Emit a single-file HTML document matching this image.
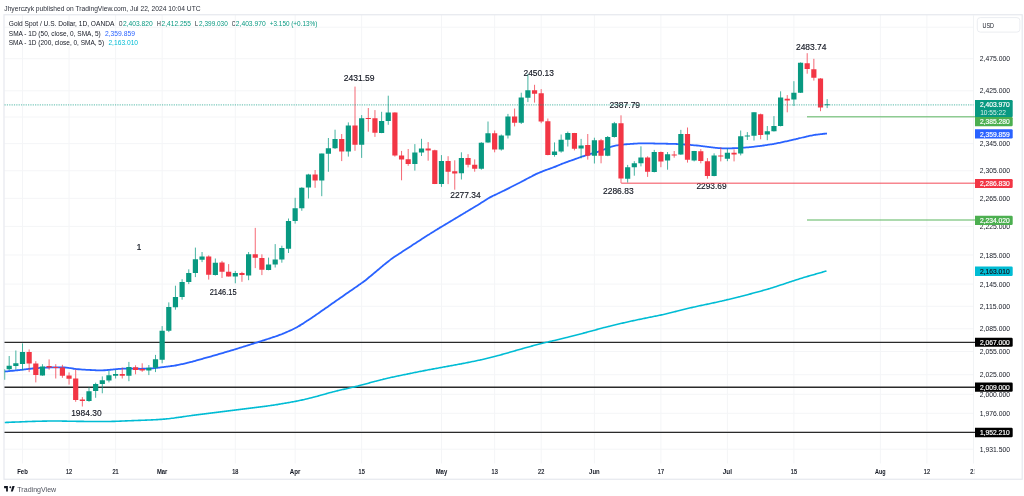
<!DOCTYPE html>
<html><head><meta charset="utf-8"><title>Gold Spot / U.S. Dollar chart</title>
<style>html,body{margin:0;padding:0;background:#fff;}body{width:1024px;height:496px;overflow:hidden;}svg{display:block;will-change:transform;}text{font-family:'Liberation Sans', Arial, sans-serif;}</style>
</head><body>
<svg width="1024" height="496" viewBox="0 0 1024 496">
<rect width="1024" height="496" fill="#ffffff"/>
<defs><clipPath id="pane"><rect x="4.5" y="15" width="969" height="448.5"/></clipPath></defs>
<g stroke="#F4F5F7" stroke-width="1" fill="none">
<line x1="22.50" y1="15" x2="22.50" y2="463.5"/>
<line x1="69.05" y1="15" x2="69.05" y2="463.5"/>
<line x1="115.60" y1="15" x2="115.60" y2="463.5"/>
<line x1="162.15" y1="15" x2="162.15" y2="463.5"/>
<line x1="235.30" y1="15" x2="235.30" y2="463.5"/>
<line x1="295.15" y1="15" x2="295.15" y2="463.5"/>
<line x1="361.65" y1="15" x2="361.65" y2="463.5"/>
<line x1="441.45" y1="15" x2="441.45" y2="463.5"/>
<line x1="494.65" y1="15" x2="494.65" y2="463.5"/>
<line x1="541.20" y1="15" x2="541.20" y2="463.5"/>
<line x1="594.40" y1="15" x2="594.40" y2="463.5"/>
<line x1="660.90" y1="15" x2="660.90" y2="463.5"/>
<line x1="727.40" y1="15" x2="727.40" y2="463.5"/>
<line x1="793.90" y1="15" x2="793.90" y2="463.5"/>
<line x1="880.35" y1="15" x2="880.35" y2="463.5"/>
<line x1="926.90" y1="15" x2="926.90" y2="463.5"/>
<line x1="4.5" y1="27.20" x2="973.5" y2="27.20"/>
<line x1="4.5" y1="58.70" x2="973.5" y2="58.70"/>
<line x1="4.5" y1="90.84" x2="973.5" y2="90.84"/>
<line x1="4.5" y1="117.04" x2="973.5" y2="117.04"/>
<line x1="4.5" y1="143.67" x2="973.5" y2="143.67"/>
<line x1="4.5" y1="170.77" x2="973.5" y2="170.77"/>
<line x1="4.5" y1="198.34" x2="973.5" y2="198.34"/>
<line x1="4.5" y1="226.40" x2="973.5" y2="226.40"/>
<line x1="4.5" y1="254.97" x2="973.5" y2="254.97"/>
<line x1="4.5" y1="284.07" x2="973.5" y2="284.07"/>
<line x1="4.5" y1="306.25" x2="973.5" y2="306.25"/>
<line x1="4.5" y1="328.75" x2="973.5" y2="328.75"/>
<line x1="4.5" y1="351.58" x2="973.5" y2="351.58"/>
<line x1="4.5" y1="374.74" x2="973.5" y2="374.74"/>
<line x1="4.5" y1="394.30" x2="973.5" y2="394.30"/>
<line x1="4.5" y1="413.31" x2="973.5" y2="413.31"/>
<line x1="4.5" y1="431.75" x2="973.5" y2="431.75"/>
<line x1="4.5" y1="449.19" x2="973.5" y2="449.19"/>
</g>
<text x="4.3" y="10.8" font-size="7.4" fill="#2A2E39" textLength="196.3" lengthAdjust="spacingAndGlyphs">Jhyerczyk published on TradingView.com, Jul 22, 2024 10:04 UTC</text>
<rect x="4" y="14.75" width="1018.2" height="464.5" fill="none" stroke="#E6E8EE" stroke-width="1.2"/>
<line x1="973.5" y1="15" x2="973.5" y2="463.5" stroke="#EEF0F3" stroke-width="0.8"/>
<line x1="4.5" y1="342.41" x2="975" y2="342.41" stroke="#2a2a2a" stroke-width="1.3"/>
<line x1="4.5" y1="387.23" x2="975" y2="387.23" stroke="#2a2a2a" stroke-width="1.3"/>
<line x1="4.5" y1="432.39" x2="975" y2="432.39" stroke="#2a2a2a" stroke-width="1.3"/>
<path clip-path="url(#pane)" d="M4.50 422.50C4.83 422.49 5.83 422.45 6.50 422.42C7.17 422.39 7.83 422.36 8.50 422.34C9.17 422.31 9.83 422.28 10.50 422.25C11.17 422.23 11.83 422.20 12.50 422.17C13.17 422.14 13.83 422.12 14.50 422.09C15.17 422.06 15.83 422.04 16.50 422.01C17.17 421.98 17.83 421.95 18.50 421.93C19.17 421.90 19.83 421.87 20.50 421.85C21.17 421.82 21.83 421.79 22.50 421.77C23.17 421.74 23.83 421.72 24.50 421.69C25.17 421.67 25.83 421.64 26.50 421.62C27.17 421.59 27.83 421.57 28.50 421.55C29.17 421.52 29.83 421.50 30.50 421.48C31.17 421.46 31.83 421.44 32.50 421.42C33.17 421.40 33.83 421.38 34.50 421.36C35.17 421.34 35.83 421.32 36.50 421.31C37.17 421.29 37.83 421.27 38.50 421.26C39.17 421.24 39.83 421.23 40.50 421.21C41.17 421.20 41.83 421.18 42.50 421.17C43.17 421.16 43.83 421.14 44.50 421.13C45.17 421.12 45.83 421.10 46.50 421.09C47.17 421.08 47.83 421.07 48.50 421.06C49.17 421.05 49.83 421.05 50.50 421.04C51.17 421.03 51.83 421.03 52.50 421.03C53.17 421.02 53.83 421.02 54.50 421.02C55.17 421.02 55.83 421.02 56.50 421.02C57.17 421.03 57.83 421.03 58.50 421.04C59.17 421.04 59.83 421.05 60.50 421.06C61.17 421.07 61.83 421.08 62.50 421.09C63.17 421.10 63.83 421.11 64.50 421.12C65.17 421.13 65.83 421.14 66.50 421.16C67.17 421.17 67.83 421.18 68.50 421.19C69.17 421.21 69.83 421.22 70.50 421.23C71.17 421.24 71.83 421.26 72.50 421.27C73.17 421.28 73.83 421.29 74.50 421.30C75.17 421.31 75.83 421.32 76.50 421.33C77.17 421.35 77.83 421.35 78.50 421.36C79.17 421.37 79.83 421.38 80.50 421.39C81.17 421.40 81.83 421.40 82.50 421.41C83.17 421.42 83.83 421.42 84.50 421.43C85.17 421.44 85.83 421.44 86.50 421.45C87.17 421.45 87.83 421.46 88.50 421.46C89.17 421.47 89.83 421.47 90.50 421.48C91.17 421.48 91.83 421.49 92.50 421.49C93.17 421.49 93.83 421.50 94.50 421.50C95.17 421.51 95.83 421.51 96.50 421.51C97.17 421.52 97.83 421.52 98.50 421.52C99.17 421.52 99.83 421.53 100.50 421.53C101.17 421.53 101.83 421.53 102.50 421.53C103.17 421.53 103.83 421.52 104.50 421.52C105.17 421.52 105.83 421.51 106.50 421.50C107.17 421.50 107.83 421.49 108.50 421.48C109.17 421.47 109.83 421.46 110.50 421.44C111.17 421.43 111.83 421.41 112.50 421.39C113.17 421.38 113.83 421.36 114.50 421.34C115.17 421.31 115.83 421.29 116.50 421.27C117.17 421.25 117.83 421.22 118.50 421.20C119.17 421.17 119.83 421.14 120.50 421.12C121.17 421.09 121.83 421.06 122.50 421.04C123.17 421.01 123.83 420.98 124.50 420.96C125.17 420.93 125.83 420.90 126.50 420.87C127.17 420.85 127.83 420.82 128.50 420.79C129.17 420.77 129.83 420.74 130.50 420.71C131.17 420.69 131.83 420.66 132.50 420.63C133.17 420.61 133.83 420.58 134.50 420.56C135.17 420.53 135.83 420.51 136.50 420.48C137.17 420.46 137.83 420.43 138.50 420.41C139.17 420.38 139.83 420.36 140.50 420.33C141.17 420.31 141.83 420.28 142.50 420.26C143.17 420.23 143.83 420.21 144.50 420.18C145.17 420.16 145.83 420.13 146.50 420.11C147.17 420.08 147.83 420.06 148.50 420.03C149.17 420.00 149.83 419.98 150.50 419.95C151.17 419.92 151.83 419.89 152.50 419.86C153.17 419.83 153.83 419.80 154.50 419.77C155.17 419.73 155.83 419.70 156.50 419.66C157.17 419.62 157.83 419.58 158.50 419.54C159.17 419.50 159.83 419.46 160.50 419.41C161.17 419.36 161.83 419.31 162.50 419.26C163.17 419.20 163.83 419.14 164.50 419.08C165.17 419.02 165.83 418.95 166.50 418.89C167.17 418.82 167.83 418.75 168.50 418.67C169.17 418.60 169.83 418.52 170.50 418.44C171.17 418.36 171.83 418.28 172.50 418.19C173.17 418.11 173.83 418.02 174.50 417.93C175.17 417.84 175.83 417.75 176.50 417.66C177.17 417.57 177.83 417.47 178.50 417.38C179.17 417.28 179.83 417.19 180.50 417.09C181.17 417.00 181.83 416.90 182.50 416.80C183.17 416.71 183.83 416.61 184.50 416.52C185.17 416.42 185.83 416.32 186.50 416.23C187.17 416.13 187.83 416.04 188.50 415.95C189.17 415.85 189.83 415.76 190.50 415.67C191.17 415.58 191.83 415.49 192.50 415.40C193.17 415.31 193.83 415.23 194.50 415.14C195.17 415.05 195.83 414.97 196.50 414.88C197.17 414.80 197.83 414.72 198.50 414.63C199.17 414.55 199.83 414.47 200.50 414.38C201.17 414.30 201.83 414.22 202.50 414.14C203.17 414.05 203.83 413.97 204.50 413.89C205.17 413.80 205.83 413.72 206.50 413.64C207.17 413.55 207.83 413.47 208.50 413.39C209.17 413.30 209.83 413.22 210.50 413.13C211.17 413.05 211.83 412.96 212.50 412.88C213.17 412.80 213.83 412.71 214.50 412.63C215.17 412.54 215.83 412.46 216.50 412.38C217.17 412.29 217.83 412.21 218.50 412.13C219.17 412.04 219.83 411.96 220.50 411.88C221.17 411.80 221.83 411.72 222.50 411.63C223.17 411.55 223.83 411.47 224.50 411.39C225.17 411.31 225.83 411.23 226.50 411.15C227.17 411.07 227.83 410.99 228.50 410.90C229.17 410.82 229.83 410.74 230.50 410.66C231.17 410.58 231.83 410.49 232.50 410.41C233.17 410.33 233.83 410.24 234.50 410.16C235.17 410.08 235.83 409.99 236.50 409.91C237.17 409.82 237.83 409.74 238.50 409.65C239.17 409.57 239.83 409.48 240.50 409.40C241.17 409.31 241.83 409.23 242.50 409.14C243.17 409.05 243.83 408.97 244.50 408.88C245.17 408.80 245.83 408.71 246.50 408.63C247.17 408.54 247.83 408.46 248.50 408.37C249.17 408.29 249.83 408.20 250.50 408.12C251.17 408.03 251.83 407.95 252.50 407.87C253.17 407.78 253.83 407.70 254.50 407.62C255.17 407.53 255.83 407.45 256.50 407.36C257.17 407.28 257.83 407.20 258.50 407.11C259.17 407.03 259.83 406.95 260.50 406.86C261.17 406.78 261.83 406.69 262.50 406.61C263.17 406.52 263.83 406.44 264.50 406.35C265.17 406.26 265.83 406.18 266.50 406.09C267.17 406.00 267.83 405.91 268.50 405.82C269.17 405.72 269.83 405.63 270.50 405.54C271.17 405.44 271.83 405.35 272.50 405.25C273.17 405.15 273.83 405.05 274.50 404.95C275.17 404.84 275.83 404.74 276.50 404.63C277.17 404.53 277.83 404.42 278.50 404.31C279.17 404.20 279.83 404.09 280.50 403.98C281.17 403.87 281.83 403.76 282.50 403.64C283.17 403.53 283.83 403.42 284.50 403.30C285.17 403.19 285.83 403.07 286.50 402.96C287.17 402.84 287.83 402.73 288.50 402.61C289.17 402.49 289.83 402.38 290.50 402.26C291.17 402.14 291.83 402.02 292.50 401.90C293.17 401.78 293.83 401.65 294.50 401.53C295.17 401.40 295.83 401.28 296.50 401.15C297.17 401.02 297.83 400.89 298.50 400.75C299.17 400.61 299.83 400.48 300.50 400.34C301.17 400.19 301.83 400.05 302.50 399.90C303.17 399.75 303.83 399.60 304.50 399.45C305.17 399.30 305.83 399.14 306.50 398.98C307.17 398.82 307.83 398.66 308.50 398.50C309.17 398.34 309.83 398.17 310.50 398.00C311.17 397.83 311.83 397.66 312.50 397.49C313.17 397.32 313.83 397.14 314.50 396.96C315.17 396.79 315.83 396.61 316.50 396.43C317.17 396.25 317.83 396.06 318.50 395.88C319.17 395.69 319.83 395.50 320.50 395.32C321.17 395.13 321.83 394.94 322.50 394.75C323.17 394.56 323.83 394.37 324.50 394.18C325.17 393.99 325.83 393.81 326.50 393.62C327.17 393.43 327.83 393.24 328.50 393.06C329.17 392.88 329.83 392.70 330.50 392.52C331.17 392.34 331.83 392.16 332.50 391.99C333.17 391.82 333.83 391.64 334.50 391.48C335.17 391.31 335.83 391.15 336.50 390.99C337.17 390.82 337.83 390.67 338.50 390.51C339.17 390.35 339.83 390.20 340.50 390.05C341.17 389.89 341.83 389.74 342.50 389.59C343.17 389.44 343.83 389.30 344.50 389.15C345.17 389.00 345.83 388.85 346.50 388.70C347.17 388.55 347.83 388.40 348.50 388.25C349.17 388.10 349.83 387.95 350.50 387.80C351.17 387.64 351.83 387.49 352.50 387.33C353.17 387.18 353.83 387.02 354.50 386.86C355.17 386.69 355.83 386.53 356.50 386.36C357.17 386.20 357.83 386.03 358.50 385.86C359.17 385.69 359.83 385.51 360.50 385.34C361.17 385.16 361.83 384.98 362.50 384.80C363.17 384.62 363.83 384.44 364.50 384.26C365.17 384.08 365.83 383.89 366.50 383.71C367.17 383.53 367.83 383.34 368.50 383.16C369.17 382.97 369.83 382.79 370.50 382.60C371.17 382.42 371.83 382.23 372.50 382.05C373.17 381.86 373.83 381.68 374.50 381.50C375.17 381.32 375.83 381.13 376.50 380.96C377.17 380.78 377.83 380.60 378.50 380.42C379.17 380.25 379.83 380.08 380.50 379.91C381.17 379.74 381.83 379.57 382.50 379.41C383.17 379.24 383.83 379.08 384.50 378.92C385.17 378.76 385.83 378.61 386.50 378.45C387.17 378.30 387.83 378.15 388.50 378.00C389.17 377.85 389.83 377.70 390.50 377.56C391.17 377.41 391.83 377.27 392.50 377.13C393.17 376.99 393.83 376.84 394.50 376.70C395.17 376.56 395.83 376.42 396.50 376.28C397.17 376.14 397.83 376.00 398.50 375.86C399.17 375.73 399.83 375.59 400.50 375.45C401.17 375.31 401.83 375.17 402.50 375.03C403.17 374.89 403.83 374.76 404.50 374.62C405.17 374.48 405.83 374.34 406.50 374.20C407.17 374.07 407.83 373.93 408.50 373.79C409.17 373.65 409.83 373.51 410.50 373.38C411.17 373.24 411.83 373.10 412.50 372.97C413.17 372.83 413.83 372.70 414.50 372.56C415.17 372.43 415.83 372.29 416.50 372.16C417.17 372.02 417.83 371.89 418.50 371.76C419.17 371.63 419.83 371.49 420.50 371.36C421.17 371.23 421.83 371.10 422.50 370.97C423.17 370.85 423.83 370.72 424.50 370.59C425.17 370.46 425.83 370.34 426.50 370.21C427.17 370.08 427.83 369.96 428.50 369.83C429.17 369.71 429.83 369.58 430.50 369.46C431.17 369.34 431.83 369.21 432.50 369.09C433.17 368.96 433.83 368.84 434.50 368.72C435.17 368.59 435.83 368.47 436.50 368.35C437.17 368.23 437.83 368.10 438.50 367.98C439.17 367.86 439.83 367.74 440.50 367.61C441.17 367.49 441.83 367.37 442.50 367.25C443.17 367.13 443.83 367.01 444.50 366.88C445.17 366.76 445.83 366.64 446.50 366.52C447.17 366.40 447.83 366.28 448.50 366.16C449.17 366.04 449.83 365.91 450.50 365.79C451.17 365.67 451.83 365.55 452.50 365.43C453.17 365.31 453.83 365.18 454.50 365.06C455.17 364.94 455.83 364.82 456.50 364.69C457.17 364.57 457.83 364.44 458.50 364.32C459.17 364.19 459.83 364.07 460.50 363.94C461.17 363.82 461.83 363.69 462.50 363.56C463.17 363.43 463.83 363.31 464.50 363.18C465.17 363.05 465.83 362.92 466.50 362.79C467.17 362.66 467.83 362.53 468.50 362.39C469.17 362.26 469.83 362.13 470.50 361.99C471.17 361.86 471.83 361.73 472.50 361.59C473.17 361.46 473.83 361.32 474.50 361.18C475.17 361.04 475.83 360.90 476.50 360.76C477.17 360.62 477.83 360.48 478.50 360.33C479.17 360.19 479.83 360.04 480.50 359.89C481.17 359.75 481.83 359.60 482.50 359.44C483.17 359.29 483.83 359.13 484.50 358.98C485.17 358.82 485.83 358.66 486.50 358.50C487.17 358.34 487.83 358.18 488.50 358.01C489.17 357.85 489.83 357.68 490.50 357.52C491.17 357.35 491.83 357.18 492.50 357.01C493.17 356.84 493.83 356.67 494.50 356.50C495.17 356.33 495.83 356.16 496.50 355.98C497.17 355.81 497.83 355.63 498.50 355.45C499.17 355.28 499.83 355.10 500.50 354.91C501.17 354.73 501.83 354.55 502.50 354.37C503.17 354.18 503.83 354.00 504.50 353.81C505.17 353.62 505.83 353.43 506.50 353.24C507.17 353.05 507.83 352.86 508.50 352.67C509.17 352.47 509.83 352.28 510.50 352.09C511.17 351.89 511.83 351.70 512.50 351.50C513.17 351.31 513.83 351.11 514.50 350.92C515.17 350.72 515.83 350.53 516.50 350.33C517.17 350.14 517.83 349.95 518.50 349.75C519.17 349.56 519.83 349.37 520.50 349.18C521.17 348.99 521.83 348.80 522.50 348.61C523.17 348.42 523.83 348.23 524.50 348.05C525.17 347.86 525.83 347.68 526.50 347.49C527.17 347.31 527.83 347.12 528.50 346.94C529.17 346.76 529.83 346.58 530.50 346.40C531.17 346.22 531.83 346.04 532.50 345.86C533.17 345.68 533.83 345.51 534.50 345.33C535.17 345.15 535.83 344.98 536.50 344.80C537.17 344.63 537.83 344.46 538.50 344.29C539.17 344.12 539.83 343.95 540.50 343.78C541.17 343.61 541.83 343.45 542.50 343.28C543.17 343.12 543.83 342.96 544.50 342.79C545.17 342.63 545.83 342.47 546.50 342.31C547.17 342.16 547.83 342.00 548.50 341.84C549.17 341.68 549.83 341.53 550.50 341.37C551.17 341.22 551.83 341.06 552.50 340.90C553.17 340.75 553.83 340.59 554.50 340.43C555.17 340.27 555.83 340.12 556.50 339.96C557.17 339.80 557.83 339.64 558.50 339.47C559.17 339.31 559.83 339.15 560.50 338.99C561.17 338.82 561.83 338.66 562.50 338.49C563.17 338.33 563.83 338.16 564.50 338.00C565.17 337.83 565.83 337.67 566.50 337.50C567.17 337.33 567.83 337.16 568.50 337.00C569.17 336.83 569.83 336.66 570.50 336.49C571.17 336.32 571.83 336.16 572.50 335.99C573.17 335.82 573.83 335.65 574.50 335.48C575.17 335.31 575.83 335.14 576.50 334.97C577.17 334.80 577.83 334.63 578.50 334.45C579.17 334.28 579.83 334.11 580.50 333.93C581.17 333.76 581.83 333.59 582.50 333.41C583.17 333.23 583.83 333.06 584.50 332.88C585.17 332.70 585.83 332.52 586.50 332.35C587.17 332.17 587.83 331.99 588.50 331.81C589.17 331.63 589.83 331.45 590.50 331.27C591.17 331.08 591.83 330.90 592.50 330.72C593.17 330.54 593.83 330.36 594.50 330.17C595.17 329.99 595.83 329.81 596.50 329.63C597.17 329.45 597.83 329.27 598.50 329.08C599.17 328.90 599.83 328.72 600.50 328.54C601.17 328.36 601.83 328.18 602.50 328.00C603.17 327.83 603.83 327.65 604.50 327.47C605.17 327.30 605.83 327.12 606.50 326.95C607.17 326.78 607.83 326.61 608.50 326.44C609.17 326.27 609.83 326.10 610.50 325.94C611.17 325.77 611.83 325.61 612.50 325.44C613.17 325.28 613.83 325.12 614.50 324.96C615.17 324.80 615.83 324.65 616.50 324.49C617.17 324.33 617.83 324.18 618.50 324.03C619.17 323.87 619.83 323.72 620.50 323.57C621.17 323.41 621.83 323.26 622.50 323.11C623.17 322.96 623.83 322.81 624.50 322.66C625.17 322.51 625.83 322.35 626.50 322.21C627.17 322.06 627.83 321.91 628.50 321.76C629.17 321.61 629.83 321.46 630.50 321.31C631.17 321.16 631.83 321.02 632.50 320.87C633.17 320.73 633.83 320.58 634.50 320.44C635.17 320.29 635.83 320.15 636.50 320.01C637.17 319.87 637.83 319.72 638.50 319.58C639.17 319.44 639.83 319.31 640.50 319.17C641.17 319.03 641.83 318.89 642.50 318.76C643.17 318.62 643.83 318.49 644.50 318.35C645.17 318.22 645.83 318.08 646.50 317.95C647.17 317.81 647.83 317.68 648.50 317.55C649.17 317.41 649.83 317.28 650.50 317.15C651.17 317.01 651.83 316.88 652.50 316.75C653.17 316.61 653.83 316.48 654.50 316.34C655.17 316.21 655.83 316.07 656.50 315.94C657.17 315.80 657.83 315.66 658.50 315.52C659.17 315.38 659.83 315.24 660.50 315.10C661.17 314.95 661.83 314.81 662.50 314.66C663.17 314.51 663.83 314.36 664.50 314.21C665.17 314.06 665.83 313.90 666.50 313.75C667.17 313.59 667.83 313.43 668.50 313.27C669.17 313.11 669.83 312.95 670.50 312.78C671.17 312.62 671.83 312.45 672.50 312.29C673.17 312.12 673.83 311.95 674.50 311.78C675.17 311.62 675.83 311.45 676.50 311.28C677.17 311.11 677.83 310.94 678.50 310.77C679.17 310.60 679.83 310.43 680.50 310.26C681.17 310.09 681.83 309.93 682.50 309.76C683.17 309.59 683.83 309.43 684.50 309.26C685.17 309.10 685.83 308.93 686.50 308.77C687.17 308.61 687.83 308.45 688.50 308.29C689.17 308.13 689.83 307.98 690.50 307.82C691.17 307.67 691.83 307.52 692.50 307.37C693.17 307.21 693.83 307.07 694.50 306.92C695.17 306.77 695.83 306.63 696.50 306.48C697.17 306.34 697.83 306.19 698.50 306.05C699.17 305.91 699.83 305.77 700.50 305.63C701.17 305.48 701.83 305.34 702.50 305.20C703.17 305.06 703.83 304.92 704.50 304.78C705.17 304.64 705.83 304.50 706.50 304.36C707.17 304.22 707.83 304.08 708.50 303.94C709.17 303.80 709.83 303.66 710.50 303.52C711.17 303.37 711.83 303.23 712.50 303.09C713.17 302.94 713.83 302.80 714.50 302.65C715.17 302.50 715.83 302.36 716.50 302.21C717.17 302.06 717.83 301.91 718.50 301.76C719.17 301.61 719.83 301.45 720.50 301.30C721.17 301.15 721.83 300.99 722.50 300.83C723.17 300.68 723.83 300.52 724.50 300.36C725.17 300.21 725.83 300.05 726.50 299.89C727.17 299.73 727.83 299.57 728.50 299.41C729.17 299.25 729.83 299.09 730.50 298.93C731.17 298.77 731.83 298.61 732.50 298.44C733.17 298.28 733.83 298.12 734.50 297.96C735.17 297.80 735.83 297.63 736.50 297.47C737.17 297.31 737.83 297.14 738.50 296.98C739.17 296.81 739.83 296.64 740.50 296.48C741.17 296.31 741.83 296.14 742.50 295.97C743.17 295.80 743.83 295.63 744.50 295.46C745.17 295.29 745.83 295.12 746.50 294.94C747.17 294.77 747.83 294.59 748.50 294.42C749.17 294.24 749.83 294.06 750.50 293.89C751.17 293.71 751.83 293.53 752.50 293.35C753.17 293.17 753.83 292.99 754.50 292.81C755.17 292.63 755.83 292.45 756.50 292.26C757.17 292.08 757.83 291.90 758.50 291.72C759.17 291.53 759.83 291.35 760.50 291.16C761.17 290.98 761.83 290.80 762.50 290.61C763.17 290.42 763.83 290.24 764.50 290.05C765.17 289.86 765.83 289.67 766.50 289.48C767.17 289.28 767.83 289.09 768.50 288.89C769.17 288.70 769.83 288.50 770.50 288.30C771.17 288.10 771.83 287.90 772.50 287.69C773.17 287.48 773.83 287.28 774.50 287.06C775.17 286.85 775.83 286.64 776.50 286.43C777.17 286.21 777.83 285.99 778.50 285.77C779.17 285.56 779.83 285.33 780.50 285.11C781.17 284.89 781.83 284.67 782.50 284.44C783.17 284.22 783.83 284.00 784.50 283.77C785.17 283.55 785.83 283.32 786.50 283.10C787.17 282.87 787.83 282.65 788.50 282.42C789.17 282.20 789.83 281.97 790.50 281.75C791.17 281.53 791.83 281.30 792.50 281.08C793.17 280.86 793.83 280.64 794.50 280.43C795.17 280.21 795.83 279.99 796.50 279.78C797.17 279.56 797.83 279.35 798.50 279.14C799.17 278.93 799.83 278.72 800.50 278.51C801.17 278.31 801.83 278.10 802.50 277.90C803.17 277.70 803.83 277.50 804.50 277.30C805.17 277.10 805.83 276.91 806.50 276.71C807.17 276.51 807.83 276.32 808.50 276.13C809.17 275.93 809.83 275.74 810.50 275.55C811.17 275.36 811.83 275.17 812.50 274.98C813.17 274.78 813.83 274.59 814.50 274.40C815.17 274.21 815.83 274.02 816.50 273.83C817.17 273.64 817.83 273.45 818.50 273.26C819.17 273.07 819.83 272.88 820.50 272.69C821.17 272.50 821.83 272.31 822.50 272.12C823.17 271.93 823.83 271.74 824.50 271.55C825.17 271.36 826.17 271.08 826.50 270.99" fill="none" stroke="#00BCD4" stroke-width="1.6" stroke-linejoin="round"/>
<path clip-path="url(#pane)" d="M4.50 371.60C4.83 371.57 5.83 371.46 6.50 371.39C7.17 371.32 7.83 371.25 8.50 371.18C9.17 371.11 9.83 371.04 10.50 370.97C11.17 370.90 11.83 370.83 12.50 370.76C13.17 370.70 13.83 370.63 14.50 370.56C15.17 370.49 15.83 370.42 16.50 370.35C17.17 370.28 17.83 370.21 18.50 370.13C19.17 370.06 19.83 369.99 20.50 369.92C21.17 369.84 21.83 369.77 22.50 369.69C23.17 369.61 23.83 369.53 24.50 369.45C25.17 369.37 25.83 369.29 26.50 369.21C27.17 369.13 27.83 369.04 28.50 368.96C29.17 368.88 29.83 368.80 30.50 368.73C31.17 368.66 31.83 368.59 32.50 368.52C33.17 368.45 33.83 368.39 34.50 368.34C35.17 368.28 35.83 368.23 36.50 368.18C37.17 368.13 37.83 368.09 38.50 368.04C39.17 368.00 39.83 367.95 40.50 367.91C41.17 367.87 41.83 367.83 42.50 367.79C43.17 367.75 43.83 367.71 44.50 367.68C45.17 367.65 45.83 367.61 46.50 367.59C47.17 367.56 47.83 367.54 48.50 367.52C49.17 367.50 49.83 367.48 50.50 367.47C51.17 367.45 51.83 367.44 52.50 367.43C53.17 367.42 53.83 367.41 54.50 367.40C55.17 367.40 55.83 367.39 56.50 367.38C57.17 367.38 57.83 367.37 58.50 367.37C59.17 367.37 59.83 367.37 60.50 367.38C61.17 367.39 61.83 367.40 62.50 367.43C63.17 367.45 63.83 367.48 64.50 367.52C65.17 367.56 65.83 367.61 66.50 367.67C67.17 367.73 67.83 367.80 68.50 367.88C69.17 367.96 69.83 368.05 70.50 368.15C71.17 368.25 71.83 368.36 72.50 368.47C73.17 368.58 73.83 368.69 74.50 368.79C75.17 368.88 75.83 368.98 76.50 369.06C77.17 369.14 77.83 369.21 78.50 369.27C79.17 369.33 79.83 369.38 80.50 369.43C81.17 369.48 81.83 369.52 82.50 369.56C83.17 369.61 83.83 369.64 84.50 369.68C85.17 369.72 85.83 369.76 86.50 369.79C87.17 369.83 87.83 369.87 88.50 369.90C89.17 369.94 89.83 369.97 90.50 370.01C91.17 370.04 91.83 370.08 92.50 370.12C93.17 370.15 93.83 370.19 94.50 370.22C95.17 370.25 95.83 370.28 96.50 370.31C97.17 370.34 97.83 370.37 98.50 370.38C99.17 370.40 99.83 370.41 100.50 370.41C101.17 370.41 101.83 370.39 102.50 370.37C103.17 370.35 103.83 370.31 104.50 370.27C105.17 370.23 105.83 370.18 106.50 370.12C107.17 370.07 107.83 370.00 108.50 369.94C109.17 369.88 109.83 369.81 110.50 369.75C111.17 369.68 111.83 369.61 112.50 369.54C113.17 369.47 113.83 369.40 114.50 369.33C115.17 369.27 115.83 369.20 116.50 369.13C117.17 369.07 117.83 369.00 118.50 368.95C119.17 368.89 119.83 368.84 120.50 368.79C121.17 368.75 121.83 368.71 122.50 368.68C123.17 368.64 123.83 368.61 124.50 368.59C125.17 368.57 125.83 368.55 126.50 368.53C127.17 368.52 127.83 368.51 128.50 368.50C129.17 368.50 129.83 368.50 130.50 368.51C131.17 368.52 131.83 368.53 132.50 368.55C133.17 368.57 133.83 368.59 134.50 368.61C135.17 368.63 135.83 368.66 136.50 368.68C137.17 368.70 137.83 368.73 138.50 368.74C139.17 368.76 139.83 368.77 140.50 368.78C141.17 368.78 141.83 368.78 142.50 368.77C143.17 368.77 143.83 368.75 144.50 368.74C145.17 368.72 145.83 368.69 146.50 368.67C147.17 368.64 147.83 368.61 148.50 368.58C149.17 368.55 149.83 368.51 150.50 368.47C151.17 368.43 151.83 368.38 152.50 368.33C153.17 368.28 153.83 368.22 154.50 368.15C155.17 368.08 155.83 368.01 156.50 367.94C157.17 367.86 157.83 367.78 158.50 367.70C159.17 367.62 159.83 367.53 160.50 367.45C161.17 367.36 161.83 367.27 162.50 367.19C163.17 367.10 163.83 367.02 164.50 366.93C165.17 366.85 165.83 366.76 166.50 366.67C167.17 366.59 167.83 366.50 168.50 366.42C169.17 366.33 169.83 366.24 170.50 366.15C171.17 366.06 171.83 365.97 172.50 365.88C173.17 365.78 173.83 365.69 174.50 365.58C175.17 365.48 175.83 365.37 176.50 365.25C177.17 365.13 177.83 365.00 178.50 364.87C179.17 364.74 179.83 364.60 180.50 364.45C181.17 364.31 181.83 364.16 182.50 364.02C183.17 363.87 183.83 363.72 184.50 363.56C185.17 363.41 185.83 363.26 186.50 363.10C187.17 362.95 187.83 362.79 188.50 362.63C189.17 362.47 189.83 362.30 190.50 362.13C191.17 361.95 191.83 361.78 192.50 361.59C193.17 361.41 193.83 361.22 194.50 361.03C195.17 360.84 195.83 360.65 196.50 360.45C197.17 360.26 197.83 360.07 198.50 359.88C199.17 359.69 199.83 359.50 200.50 359.31C201.17 359.13 201.83 358.94 202.50 358.76C203.17 358.58 203.83 358.40 204.50 358.22C205.17 358.04 205.83 357.86 206.50 357.67C207.17 357.49 207.83 357.31 208.50 357.12C209.17 356.93 209.83 356.75 210.50 356.56C211.17 356.37 211.83 356.17 212.50 355.98C213.17 355.79 213.83 355.59 214.50 355.40C215.17 355.21 215.83 355.01 216.50 354.82C217.17 354.62 217.83 354.43 218.50 354.23C219.17 354.04 219.83 353.84 220.50 353.65C221.17 353.45 221.83 353.26 222.50 353.06C223.17 352.87 223.83 352.67 224.50 352.48C225.17 352.28 225.83 352.09 226.50 351.89C227.17 351.70 227.83 351.50 228.50 351.30C229.17 351.11 229.83 350.91 230.50 350.71C231.17 350.51 231.83 350.31 232.50 350.11C233.17 349.91 233.83 349.70 234.50 349.50C235.17 349.29 235.83 349.08 236.50 348.88C237.17 348.67 237.83 348.46 238.50 348.25C239.17 348.04 239.83 347.84 240.50 347.63C241.17 347.42 241.83 347.21 242.50 347.00C243.17 346.79 243.83 346.58 244.50 346.37C245.17 346.16 245.83 345.95 246.50 345.74C247.17 345.53 247.83 345.32 248.50 345.12C249.17 344.91 249.83 344.70 250.50 344.49C251.17 344.28 251.83 344.07 252.50 343.86C253.17 343.65 253.83 343.44 254.50 343.23C255.17 343.02 255.83 342.81 256.50 342.60C257.17 342.39 257.83 342.18 258.50 341.97C259.17 341.75 259.83 341.54 260.50 341.33C261.17 341.11 261.83 340.90 262.50 340.68C263.17 340.47 263.83 340.25 264.50 340.04C265.17 339.82 265.83 339.60 266.50 339.39C267.17 339.17 267.83 338.95 268.50 338.74C269.17 338.52 269.83 338.30 270.50 338.09C271.17 337.87 271.83 337.65 272.50 337.43C273.17 337.22 273.83 337.00 274.50 336.78C275.17 336.56 275.83 336.34 276.50 336.11C277.17 335.88 277.83 335.65 278.50 335.41C279.17 335.17 279.83 334.93 280.50 334.67C281.17 334.42 281.83 334.15 282.50 333.88C283.17 333.61 283.83 333.32 284.50 333.04C285.17 332.75 285.83 332.46 286.50 332.17C287.17 331.88 287.83 331.58 288.50 331.29C289.17 330.99 289.83 330.69 290.50 330.39C291.17 330.09 291.83 329.79 292.50 329.47C293.17 329.16 293.83 328.84 294.50 328.51C295.17 328.18 295.83 327.83 296.50 327.47C297.17 327.11 297.83 326.73 298.50 326.34C299.17 325.95 299.83 325.55 300.50 325.13C301.17 324.72 301.83 324.29 302.50 323.87C303.17 323.44 303.83 323.01 304.50 322.57C305.17 322.14 305.83 321.71 306.50 321.27C307.17 320.84 307.83 320.40 308.50 319.96C309.17 319.52 309.83 319.08 310.50 318.64C311.17 318.20 311.83 317.75 312.50 317.30C313.17 316.85 313.83 316.40 314.50 315.94C315.17 315.48 315.83 315.02 316.50 314.56C317.17 314.10 317.83 313.63 318.50 313.17C319.17 312.70 319.83 312.23 320.50 311.76C321.17 311.30 321.83 310.83 322.50 310.36C323.17 309.89 323.83 309.43 324.50 308.96C325.17 308.49 325.83 308.02 326.50 307.56C327.17 307.09 327.83 306.62 328.50 306.16C329.17 305.69 329.83 305.22 330.50 304.76C331.17 304.29 331.83 303.83 332.50 303.36C333.17 302.89 333.83 302.43 334.50 301.96C335.17 301.50 335.83 301.03 336.50 300.57C337.17 300.10 337.83 299.64 338.50 299.17C339.17 298.71 339.83 298.24 340.50 297.78C341.17 297.31 341.83 296.85 342.50 296.39C343.17 295.92 343.83 295.46 344.50 294.99C345.17 294.53 345.83 294.07 346.50 293.61C347.17 293.14 347.83 292.68 348.50 292.22C349.17 291.76 349.83 291.29 350.50 290.83C351.17 290.37 351.83 289.91 352.50 289.45C353.17 288.99 353.83 288.53 354.50 288.06C355.17 287.60 355.83 287.14 356.50 286.68C357.17 286.22 357.83 285.76 358.50 285.29C359.17 284.83 359.83 284.36 360.50 283.89C361.17 283.42 361.83 282.94 362.50 282.46C363.17 281.97 363.83 281.48 364.50 280.97C365.17 280.47 365.83 279.95 366.50 279.42C367.17 278.90 367.83 278.36 368.50 277.81C369.17 277.27 369.83 276.71 370.50 276.16C371.17 275.61 371.83 275.05 372.50 274.49C373.17 273.93 373.83 273.37 374.50 272.81C375.17 272.25 375.83 271.69 376.50 271.13C377.17 270.56 377.83 270.00 378.50 269.44C379.17 268.88 379.83 268.32 380.50 267.76C381.17 267.20 381.83 266.64 382.50 266.08C383.17 265.52 383.83 264.96 384.50 264.41C385.17 263.86 385.83 263.30 386.50 262.76C387.17 262.22 387.83 261.69 388.50 261.17C389.17 260.65 389.83 260.14 390.50 259.64C391.17 259.15 391.83 258.67 392.50 258.21C393.17 257.74 393.83 257.29 394.50 256.84C395.17 256.39 395.83 255.95 396.50 255.51C397.17 255.07 397.83 254.64 398.50 254.21C399.17 253.77 399.83 253.34 400.50 252.90C401.17 252.47 401.83 252.04 402.50 251.60C403.17 251.17 403.83 250.74 404.50 250.30C405.17 249.87 405.83 249.44 406.50 249.00C407.17 248.57 407.83 248.14 408.50 247.70C409.17 247.27 409.83 246.84 410.50 246.40C411.17 245.97 411.83 245.54 412.50 245.10C413.17 244.67 413.83 244.24 414.50 243.80C415.17 243.37 415.83 242.93 416.50 242.50C417.17 242.07 417.83 241.63 418.50 241.20C419.17 240.77 419.83 240.34 420.50 239.90C421.17 239.47 421.83 239.04 422.50 238.61C423.17 238.18 423.83 237.75 424.50 237.32C425.17 236.89 425.83 236.47 426.50 236.05C427.17 235.62 427.83 235.20 428.50 234.79C429.17 234.37 429.83 233.95 430.50 233.54C431.17 233.12 431.83 232.71 432.50 232.30C433.17 231.89 433.83 231.48 434.50 231.07C435.17 230.65 435.83 230.24 436.50 229.83C437.17 229.42 437.83 229.01 438.50 228.61C439.17 228.20 439.83 227.79 440.50 227.39C441.17 226.98 441.83 226.58 442.50 226.17C443.17 225.77 443.83 225.37 444.50 224.97C445.17 224.57 445.83 224.17 446.50 223.77C447.17 223.37 447.83 222.97 448.50 222.57C449.17 222.17 449.83 221.77 450.50 221.37C451.17 220.97 451.83 220.57 452.50 220.17C453.17 219.77 453.83 219.37 454.50 218.97C455.17 218.57 455.83 218.18 456.50 217.78C457.17 217.38 457.83 216.98 458.50 216.58C459.17 216.18 459.83 215.78 460.50 215.38C461.17 214.98 461.83 214.58 462.50 214.18C463.17 213.78 463.83 213.38 464.50 212.98C465.17 212.58 465.83 212.18 466.50 211.79C467.17 211.39 467.83 210.99 468.50 210.59C469.17 210.19 469.83 209.79 470.50 209.39C471.17 208.99 471.83 208.59 472.50 208.19C473.17 207.79 473.83 207.39 474.50 206.99C475.17 206.59 475.83 206.19 476.50 205.78C477.17 205.38 477.83 204.97 478.50 204.56C479.17 204.15 479.83 203.73 480.50 203.31C481.17 202.89 481.83 202.47 482.50 202.04C483.17 201.61 483.83 201.18 484.50 200.75C485.17 200.32 485.83 199.90 486.50 199.48C487.17 199.07 487.83 198.67 488.50 198.28C489.17 197.89 489.83 197.52 490.50 197.17C491.17 196.81 491.83 196.47 492.50 196.14C493.17 195.80 493.83 195.49 494.50 195.16C495.17 194.84 495.83 194.53 496.50 194.22C497.17 193.90 497.83 193.58 498.50 193.27C499.17 192.95 499.83 192.63 500.50 192.30C501.17 191.98 501.83 191.65 502.50 191.32C503.17 191.00 503.83 190.66 504.50 190.33C505.17 190.00 505.83 189.66 506.50 189.33C507.17 189.00 507.83 188.66 508.50 188.33C509.17 187.99 509.83 187.66 510.50 187.32C511.17 186.99 511.83 186.65 512.50 186.31C513.17 185.98 513.83 185.64 514.50 185.30C515.17 184.97 515.83 184.63 516.50 184.29C517.17 183.95 517.83 183.60 518.50 183.26C519.17 182.92 519.83 182.57 520.50 182.22C521.17 181.87 521.83 181.52 522.50 181.17C523.17 180.83 523.83 180.47 524.50 180.12C525.17 179.77 525.83 179.42 526.50 179.07C527.17 178.72 527.83 178.37 528.50 178.02C529.17 177.66 529.83 177.31 530.50 176.96C531.17 176.62 531.83 176.27 532.50 175.92C533.17 175.58 533.83 175.24 534.50 174.90C535.17 174.57 535.83 174.24 536.50 173.92C537.17 173.60 537.83 173.29 538.50 172.98C539.17 172.68 539.83 172.39 540.50 172.11C541.17 171.82 541.83 171.55 542.50 171.29C543.17 171.03 543.83 170.78 544.50 170.54C545.17 170.30 545.83 170.07 546.50 169.83C547.17 169.60 547.83 169.38 548.50 169.15C549.17 168.92 549.83 168.69 550.50 168.46C551.17 168.22 551.83 167.98 552.50 167.73C553.17 167.48 553.83 167.22 554.50 166.96C555.17 166.69 555.83 166.41 556.50 166.13C557.17 165.86 557.83 165.57 558.50 165.29C559.17 165.01 559.83 164.73 560.50 164.46C561.17 164.19 561.83 163.92 562.50 163.67C563.17 163.41 563.83 163.16 564.50 162.91C565.17 162.67 565.83 162.43 566.50 162.18C567.17 161.94 567.83 161.70 568.50 161.46C569.17 161.23 569.83 160.99 570.50 160.75C571.17 160.51 571.83 160.27 572.50 160.03C573.17 159.79 573.83 159.55 574.50 159.32C575.17 159.08 575.83 158.84 576.50 158.60C577.17 158.36 577.83 158.12 578.50 157.88C579.17 157.64 579.83 157.41 580.50 157.17C581.17 156.93 581.83 156.70 582.50 156.47C583.17 156.24 583.83 156.01 584.50 155.79C585.17 155.57 585.83 155.36 586.50 155.15C587.17 154.94 587.83 154.74 588.50 154.53C589.17 154.33 589.83 154.14 590.50 153.94C591.17 153.74 591.83 153.55 592.50 153.36C593.17 153.16 593.83 152.97 594.50 152.77C595.17 152.57 595.83 152.38 596.50 152.17C597.17 151.96 597.83 151.76 598.50 151.53C599.17 151.31 599.83 151.09 600.50 150.85C601.17 150.61 601.83 150.36 602.50 150.11C603.17 149.85 603.83 149.59 604.50 149.32C605.17 149.06 605.83 148.78 606.50 148.52C607.17 148.25 607.83 147.98 608.50 147.72C609.17 147.47 609.83 147.21 610.50 146.98C611.17 146.75 611.83 146.53 612.50 146.33C613.17 146.13 613.83 145.96 614.50 145.81C615.17 145.65 615.83 145.52 616.50 145.41C617.17 145.29 617.83 145.19 618.50 145.10C619.17 145.00 619.83 144.92 620.50 144.84C621.17 144.76 621.83 144.69 622.50 144.62C623.17 144.56 623.83 144.49 624.50 144.44C625.17 144.38 625.83 144.32 626.50 144.27C627.17 144.22 627.83 144.17 628.50 144.12C629.17 144.07 629.83 144.02 630.50 143.97C631.17 143.92 631.83 143.88 632.50 143.83C633.17 143.79 633.83 143.74 634.50 143.70C635.17 143.65 635.83 143.61 636.50 143.57C637.17 143.53 637.83 143.50 638.50 143.47C639.17 143.44 639.83 143.42 640.50 143.40C641.17 143.39 641.83 143.38 642.50 143.37C643.17 143.36 643.83 143.37 644.50 143.37C645.17 143.37 645.83 143.38 646.50 143.38C647.17 143.39 647.83 143.40 648.50 143.41C649.17 143.42 649.83 143.43 650.50 143.44C651.17 143.45 651.83 143.46 652.50 143.47C653.17 143.48 653.83 143.49 654.50 143.51C655.17 143.52 655.83 143.53 656.50 143.54C657.17 143.55 657.83 143.57 658.50 143.58C659.17 143.59 659.83 143.60 660.50 143.62C661.17 143.63 661.83 143.64 662.50 143.66C663.17 143.67 663.83 143.69 664.50 143.70C665.17 143.71 665.83 143.73 666.50 143.74C667.17 143.76 667.83 143.77 668.50 143.79C669.17 143.80 669.83 143.82 670.50 143.83C671.17 143.85 671.83 143.86 672.50 143.88C673.17 143.90 673.83 143.91 674.50 143.93C675.17 143.95 675.83 143.98 676.50 144.00C677.17 144.03 677.83 144.06 678.50 144.09C679.17 144.13 679.83 144.17 680.50 144.21C681.17 144.25 681.83 144.30 682.50 144.34C683.17 144.39 683.83 144.44 684.50 144.49C685.17 144.54 685.83 144.59 686.50 144.64C687.17 144.69 687.83 144.75 688.50 144.80C689.17 144.85 689.83 144.90 690.50 144.95C691.17 145.01 691.83 145.06 692.50 145.12C693.17 145.17 693.83 145.23 694.50 145.29C695.17 145.35 695.83 145.42 696.50 145.49C697.17 145.55 697.83 145.62 698.50 145.70C699.17 145.77 699.83 145.85 700.50 145.93C701.17 146.01 701.83 146.09 702.50 146.17C703.17 146.25 703.83 146.33 704.50 146.42C705.17 146.50 705.83 146.58 706.50 146.66C707.17 146.75 707.83 146.83 708.50 146.91C709.17 146.99 709.83 147.08 710.50 147.16C711.17 147.24 711.83 147.33 712.50 147.41C713.17 147.49 713.83 147.57 714.50 147.65C715.17 147.73 715.83 147.80 716.50 147.87C717.17 147.94 717.83 148.01 718.50 148.07C719.17 148.12 719.83 148.17 720.50 148.21C721.17 148.25 721.83 148.28 722.50 148.29C723.17 148.31 723.83 148.32 724.50 148.33C725.17 148.33 725.83 148.33 726.50 148.32C727.17 148.32 727.83 148.31 728.50 148.31C729.17 148.30 729.83 148.29 730.50 148.29C731.17 148.28 731.83 148.27 732.50 148.26C733.17 148.25 733.83 148.24 734.50 148.22C735.17 148.21 735.83 148.19 736.50 148.16C737.17 148.14 737.83 148.11 738.50 148.08C739.17 148.04 739.83 148.00 740.50 147.96C741.17 147.91 741.83 147.86 742.50 147.81C743.17 147.75 743.83 147.70 744.50 147.64C745.17 147.58 745.83 147.52 746.50 147.47C747.17 147.41 747.83 147.35 748.50 147.29C749.17 147.23 749.83 147.17 750.50 147.11C751.17 147.05 751.83 146.99 752.50 146.92C753.17 146.85 753.83 146.79 754.50 146.71C755.17 146.64 755.83 146.57 756.50 146.48C757.17 146.40 757.83 146.32 758.50 146.22C759.17 146.13 759.83 146.04 760.50 145.94C761.17 145.84 761.83 145.74 762.50 145.64C763.17 145.54 763.83 145.44 764.50 145.34C765.17 145.24 765.83 145.13 766.50 145.03C767.17 144.93 767.83 144.82 768.50 144.72C769.17 144.62 769.83 144.51 770.50 144.40C771.17 144.30 771.83 144.19 772.50 144.07C773.17 143.96 773.83 143.84 774.50 143.72C775.17 143.60 775.83 143.47 776.50 143.35C777.17 143.22 777.83 143.08 778.50 142.95C779.17 142.81 779.83 142.67 780.50 142.54C781.17 142.40 781.83 142.26 782.50 142.12C783.17 141.98 783.83 141.84 784.50 141.70C785.17 141.56 785.83 141.42 786.50 141.28C787.17 141.14 787.83 141.00 788.50 140.85C789.17 140.71 789.83 140.56 790.50 140.41C791.17 140.26 791.83 140.11 792.50 139.96C793.17 139.80 793.83 139.64 794.50 139.48C795.17 139.32 795.83 139.16 796.50 138.99C797.17 138.83 797.83 138.66 798.50 138.49C799.17 138.33 799.83 138.16 800.50 138.00C801.17 137.83 801.83 137.67 802.50 137.50C803.17 137.34 803.83 137.18 804.50 137.02C805.17 136.85 805.83 136.69 806.50 136.54C807.17 136.38 807.83 136.22 808.50 136.07C809.17 135.93 809.83 135.78 810.50 135.65C811.17 135.51 811.83 135.38 812.50 135.27C813.17 135.15 813.83 135.05 814.50 134.95C815.17 134.85 815.83 134.77 816.50 134.68C817.17 134.60 817.83 134.52 818.50 134.44C819.17 134.37 819.83 134.29 820.50 134.22C821.17 134.14 821.83 134.07 822.50 134.00C823.17 133.92 823.83 133.84 824.50 133.77C825.17 133.69 826.08 133.57 826.50 133.52C826.92 133.47 826.92 133.47 827.00 133.46" fill="none" stroke="#2962FF" stroke-width="1.8" stroke-linejoin="round"/>
<g clip-path="url(#pane)">
<path d="M2.55 368.50V381.00M9.20 356.00V370.50M15.85 350.50V369.70M22.50 343.40V370.30M42.45 364.20V375.80M89.00 387.30V401.80M95.65 382.70V397.80M102.30 376.40V393.30M108.95 370.60V382.40M115.60 370.00V378.50M128.90 361.90V381.20M148.85 365.00V375.10M155.50 354.90V372.10M162.15 326.10V363.30M168.80 302.40V332.10M175.45 285.70V309.70M182.10 279.20V299.70M188.75 269.30V284.10M195.40 247.60V277.10M202.05 252.00V262.10M215.35 258.50V275.60M235.30 270.90V283.30M248.60 252.00V280.20M268.55 257.60V270.30M275.20 244.10V267.50M281.85 245.70V262.70M288.50 218.50V253.00M295.15 197.80V223.60M301.80 187.20V210.80M308.45 173.80V198.50M321.75 153.60V196.20M328.40 138.00V171.80M335.05 129.70V149.00M348.35 122.40V156.60M361.65 115.10V157.90M381.60 111.80V133.20M388.25 95.70V124.80M414.85 144.10V170.60M421.50 138.80V156.00M441.45 155.10V186.90M461.40 152.30V179.50M481.35 142.20V169.70M488.00 121.50V142.80M501.30 134.50V150.60M507.95 113.90V138.50M521.25 92.70V124.00M527.90 73.90V102.10M554.50 142.40V156.70M561.15 134.50V152.70M567.80 131.60V146.50M581.10 138.90V158.40M594.40 137.70V163.50M607.70 136.00V156.20M614.35 121.90V137.60M627.65 164.90V182.60M634.30 161.20V175.70M640.95 146.30V166.40M654.25 149.90V172.40M667.55 152.00V169.70M680.85 129.90V154.90M694.15 150.90V161.40M714.10 153.30V176.30M727.40 148.50V161.20M740.70 130.50V155.40M747.35 132.10V140.00M754.00 112.30V140.60M767.30 126.00V140.20M773.95 116.10V131.50M780.60 91.30V126.40M793.90 81.20V106.00M800.55 62.40V93.00M827.15 99.10V108.10" stroke="#089981" stroke-width="1" stroke-opacity="0.75" fill="none"/>
<path d="M29.15 349.40V372.10M35.80 361.20V382.40M49.10 359.40V369.70M55.75 364.20V378.50M62.40 364.80V377.80M69.05 372.40V384.60M75.70 369.40V401.80M82.35 397.10V406.50M122.25 367.60V378.50M135.55 365.30V374.30M142.20 363.30V371.80M208.70 255.40V279.60M222.00 260.90V278.00M228.65 264.10V276.50M241.95 271.80V281.80M255.25 227.90V268.10M261.90 254.30V275.10M315.10 170.00V187.80M341.70 134.00V161.10M355.00 86.60V150.80M368.30 108.00V131.70M374.95 110.10V136.90M394.90 112.30V156.60M401.55 150.90V180.30M408.20 149.00V165.80M428.15 142.10V160.70M434.80 149.70V184.10M448.10 156.20V184.10M454.75 160.30V189.70M468.05 154.20V167.40M474.70 159.40V171.70M494.65 130.50V152.30M514.60 108.50V126.40M534.55 84.80V102.60M541.20 89.10V123.20M547.85 118.50V155.30M574.45 132.90V150.40M587.75 134.00V159.60M601.05 138.90V163.30M621.00 115.30V183.10M647.60 156.30V176.90M660.90 151.50V167.20M674.20 151.00V157.70M687.50 127.50V162.60M700.80 149.10V163.30M707.45 158.10V178.70M720.75 147.60V161.40M734.05 149.30V161.40M760.65 113.60V139.30M787.25 95.10V112.30M807.20 53.20V73.70M813.85 58.80V80.60M820.50 78.10V111.20" stroke="#F23645" stroke-width="1" stroke-opacity="0.75" fill="none"/>
<path d="M-0.05 369.20h5.2v10.60h-5.2zM6.60 365.70h5.2v3.60h-5.2zM13.25 363.30h5.2v2.70h-5.2zM19.90 351.90h5.2v12.00h-5.2zM39.85 366.40h5.2v9.00h-5.2zM86.40 391.20h5.2v9.90h-5.2zM93.05 383.90h5.2v7.00h-5.2zM99.70 380.30h5.2v3.60h-5.2zM106.35 375.20h5.2v5.30h-5.2zM113.00 374.00h5.2v1.70h-5.2zM126.30 367.00h5.2v8.70h-5.2zM146.25 367.80h5.2v2.80h-5.2zM152.90 359.30h5.2v8.50h-5.2zM159.55 330.70h5.2v29.00h-5.2zM166.20 306.90h5.2v23.80h-5.2zM172.85 296.90h5.2v10.40h-5.2zM179.50 282.00h5.2v14.90h-5.2zM186.15 273.00h5.2v8.90h-5.2zM192.80 259.30h5.2v13.70h-5.2zM199.45 256.40h5.2v3.30h-5.2zM212.75 262.70h5.2v12.30h-5.2zM232.70 273.00h5.2v3.60h-5.2zM246.00 254.20h5.2v21.20h-5.2zM265.95 264.50h5.2v5.50h-5.2zM272.60 259.40h5.2v5.10h-5.2zM279.25 248.10h5.2v11.50h-5.2zM285.90 220.90h5.2v27.80h-5.2zM292.55 208.20h5.2v12.70h-5.2zM299.20 187.80h5.2v20.40h-5.2zM305.85 174.40h5.2v13.20h-5.2zM319.15 153.60h5.2v26.90h-5.2zM325.80 148.20h5.2v5.50h-5.2zM332.45 139.00h5.2v9.20h-5.2zM345.75 125.40h5.2v26.20h-5.2zM359.05 118.20h5.2v26.60h-5.2zM379.00 121.10h5.2v11.90h-5.2zM385.65 112.50h5.2v8.60h-5.2zM412.25 152.40h5.2v11.50h-5.2zM418.90 148.50h5.2v4.00h-5.2zM438.85 160.90h5.2v23.00h-5.2zM458.80 158.00h5.2v15.30h-5.2zM478.75 142.80h5.2v26.00h-5.2zM485.40 133.30h5.2v9.30h-5.2zM498.70 135.40h5.2v14.20h-5.2zM505.35 116.50h5.2v18.90h-5.2zM518.65 97.50h5.2v25.30h-5.2zM525.30 90.30h5.2v7.50h-5.2zM551.90 151.50h5.2v3.60h-5.2zM558.55 139.70h5.2v11.90h-5.2zM565.20 133.00h5.2v6.70h-5.2zM578.50 145.40h5.2v3.10h-5.2zM591.80 140.30h5.2v15.50h-5.2zM605.10 136.90h5.2v18.90h-5.2zM611.75 123.30h5.2v13.60h-5.2zM625.05 167.20h5.2v11.50h-5.2zM631.70 163.20h5.2v4.00h-5.2zM638.35 157.60h5.2v5.60h-5.2zM651.65 151.90h5.2v20.20h-5.2zM664.95 154.20h5.2v6.30h-5.2zM678.25 133.90h5.2v20.60h-5.2zM691.55 150.90h5.2v9.70h-5.2zM711.50 155.40h5.2v20.50h-5.2zM724.80 152.70h5.2v6.00h-5.2zM738.10 136.20h5.2v17.20h-5.2zM744.75 135.40h5.2v1.00h-5.2zM751.40 112.30h5.2v23.40h-5.2zM764.70 131.20h5.2v3.30h-5.2zM771.35 126.00h5.2v5.30h-5.2zM778.00 97.60h5.2v28.50h-5.2zM791.30 92.70h5.2v6.90h-5.2zM797.95 62.80h5.2v30.00h-5.2zM824.55 104.20h5.2v1.00h-5.2z" fill="#089981"/>
<path d="M26.55 351.90h5.2v11.70h-5.2zM33.20 363.40h5.2v11.70h-5.2zM46.50 366.00h5.2v1.50h-5.2zM53.15 366.90h5.2v1.20h-5.2zM59.80 367.60h5.2v8.10h-5.2zM66.45 375.40h5.2v3.30h-5.2zM73.10 378.50h5.2v21.40h-5.2zM79.75 399.60h5.2v1.30h-5.2zM119.65 374.00h5.2v1.80h-5.2zM132.95 367.20h5.2v2.70h-5.2zM139.60 368.90h5.2v1.70h-5.2zM206.10 256.40h5.2v18.40h-5.2zM219.40 262.40h5.2v9.30h-5.2zM226.05 271.70h5.2v4.80h-5.2zM239.35 273.00h5.2v2.00h-5.2zM252.65 254.20h5.2v3.60h-5.2zM259.30 257.90h5.2v11.80h-5.2zM312.50 174.40h5.2v6.10h-5.2zM339.10 139.00h5.2v12.60h-5.2zM352.40 125.40h5.2v19.40h-5.2zM365.70 117.90h5.2v1.00h-5.2zM372.35 118.30h5.2v14.50h-5.2zM392.30 112.60h5.2v43.00h-5.2zM398.95 155.60h5.2v3.80h-5.2zM405.60 159.30h5.2v4.60h-5.2zM425.55 148.50h5.2v2.10h-5.2zM432.20 150.20h5.2v33.70h-5.2zM445.50 160.90h5.2v10.90h-5.2zM452.15 171.20h5.2v2.40h-5.2zM465.45 158.10h5.2v6.70h-5.2zM472.10 164.80h5.2v4.00h-5.2zM492.05 133.30h5.2v16.30h-5.2zM512.00 116.50h5.2v6.30h-5.2zM531.95 90.30h5.2v3.40h-5.2zM538.60 93.30h5.2v28.20h-5.2zM545.25 121.20h5.2v33.90h-5.2zM571.85 133.00h5.2v15.80h-5.2zM585.15 145.10h5.2v10.70h-5.2zM598.45 140.30h5.2v15.50h-5.2zM618.40 123.30h5.2v55.20h-5.2zM645.00 157.60h5.2v14.10h-5.2zM658.30 152.00h5.2v9.50h-5.2zM671.60 154.60h5.2v1.00h-5.2zM684.90 133.90h5.2v25.80h-5.2zM698.20 151.20h5.2v9.70h-5.2zM704.85 161.20h5.2v14.70h-5.2zM718.15 155.40h5.2v1.00h-5.2zM731.45 152.70h5.2v1.80h-5.2zM758.05 114.30h5.2v20.60h-5.2zM784.65 98.80h5.2v1.80h-5.2zM804.60 63.20h5.2v5.90h-5.2zM811.25 69.30h5.2v8.50h-5.2zM817.90 78.50h5.2v29.10h-5.2z" fill="#F23645"/>
</g>
<text x="343.65" y="80.90" font-size="9.0" fill="#131722" stroke="#131722" stroke-width="0.15" textLength="31.0" lengthAdjust="spacingAndGlyphs">2431.59</text>
<text x="523.50" y="76.00" font-size="9.0" fill="#131722" stroke="#131722" stroke-width="0.15" textLength="30.4" lengthAdjust="spacingAndGlyphs">2450.13</text>
<text x="795.95" y="50.40" font-size="9.0" fill="#131722" stroke="#131722" stroke-width="0.15" textLength="30.6" lengthAdjust="spacingAndGlyphs">2483.74</text>
<text x="609.40" y="108.20" font-size="9.0" fill="#131722" stroke="#131722" stroke-width="0.15" textLength="30.7" lengthAdjust="spacingAndGlyphs">2387.79</text>
<text x="209.70" y="295.40" font-size="9.0" fill="#131722" stroke="#131722" stroke-width="0.15" textLength="26.9" lengthAdjust="spacingAndGlyphs">2146.15</text>
<text x="450.20" y="197.80" font-size="9.0" fill="#131722" stroke="#131722" stroke-width="0.15" textLength="30.5" lengthAdjust="spacingAndGlyphs">2277.34</text>
<text x="603.00" y="193.50" font-size="9.0" fill="#131722" stroke="#131722" stroke-width="0.15" textLength="30.6" lengthAdjust="spacingAndGlyphs">2286.83</text>
<text x="696.40" y="188.90" font-size="9.0" fill="#131722" stroke="#131722" stroke-width="0.15" textLength="30.2" lengthAdjust="spacingAndGlyphs">2293.69</text>
<text x="71.20" y="415.50" font-size="9.0" fill="#131722" stroke="#131722" stroke-width="0.15" textLength="30.4" lengthAdjust="spacingAndGlyphs">1984.30</text>
<text x="136.8" y="250.1" font-size="8.2" fill="#131722" stroke="#131722" stroke-width="0.2">1</text>
<line x1="621.2" y1="183.23" x2="975" y2="183.23" stroke="#F23645" stroke-opacity="0.6" stroke-width="1.5"/>
<line x1="807" y1="116.85" x2="975" y2="116.85" stroke="#4CAF50" stroke-opacity="0.62" stroke-width="1.5"/>
<line x1="807" y1="220.03" x2="975" y2="220.03" stroke="#4CAF50" stroke-opacity="0.62" stroke-width="1.5"/>
<line x1="4.5" y1="104.9" x2="973.5" y2="104.9" stroke="#089981" stroke-opacity="0.55" stroke-width="1.1" stroke-dasharray="1.2 1.15"/>
<text x="8.80" y="25.70" font-size="7.4" fill="#131722" textLength="105.50" lengthAdjust="spacingAndGlyphs">Gold Spot / U.S. Dollar, 1D, OANDA</text>
<text x="118.80" y="25.70" font-size="7.4" fill="#131722" textLength="3.70" lengthAdjust="spacingAndGlyphs">O</text>
<text x="122.90" y="25.70" font-size="7.4" fill="#089981" textLength="29.90" lengthAdjust="spacingAndGlyphs">2,403.820</text>
<text x="156.90" y="25.70" font-size="7.4" fill="#131722" textLength="3.80" lengthAdjust="spacingAndGlyphs">H</text>
<text x="161.60" y="25.70" font-size="7.4" fill="#089981" textLength="29.30" lengthAdjust="spacingAndGlyphs">2,412.255</text>
<text x="195.00" y="25.70" font-size="7.4" fill="#131722" textLength="3.10" lengthAdjust="spacingAndGlyphs">L</text>
<text x="199.10" y="25.70" font-size="7.4" fill="#089981" textLength="28.70" lengthAdjust="spacingAndGlyphs">2,399.030</text>
<text x="231.70" y="25.70" font-size="7.4" fill="#131722" textLength="3.60" lengthAdjust="spacingAndGlyphs">C</text>
<text x="235.80" y="25.70" font-size="7.4" fill="#089981" textLength="29.90" lengthAdjust="spacingAndGlyphs">2,403.970</text>
<text x="269.80" y="25.70" font-size="7.4" fill="#089981" textLength="47.50" lengthAdjust="spacingAndGlyphs">+3.150 (+0.13%)</text>
<text x="8.80" y="35.70" font-size="7.4" fill="#131722" textLength="92.00" lengthAdjust="spacingAndGlyphs">SMA - 1D (50, close, 0, SMA, 5)</text>
<text x="104.90" y="35.70" font-size="7.4" fill="#2962FF" textLength="30.00" lengthAdjust="spacingAndGlyphs">2,359.859</text>
<text x="8.80" y="44.70" font-size="7.4" fill="#131722" textLength="95.30" lengthAdjust="spacingAndGlyphs">SMA - 1D (200, close, 0, SMA, 5)</text>
<text x="108.40" y="44.70" font-size="7.4" fill="#00BCD4" textLength="29.70" lengthAdjust="spacingAndGlyphs">2,163.010</text>
<text x="979.80" y="61.30" font-size="7.3" fill="#131722" textLength="30.30" lengthAdjust="spacingAndGlyphs">2,475.000</text>
<text x="979.80" y="93.44" font-size="7.3" fill="#131722" textLength="30.30" lengthAdjust="spacingAndGlyphs">2,425.000</text>
<text x="979.80" y="146.27" font-size="7.3" fill="#131722" textLength="30.30" lengthAdjust="spacingAndGlyphs">2,345.000</text>
<text x="979.80" y="173.37" font-size="7.3" fill="#131722" textLength="30.30" lengthAdjust="spacingAndGlyphs">2,305.000</text>
<text x="979.80" y="200.94" font-size="7.3" fill="#131722" textLength="30.30" lengthAdjust="spacingAndGlyphs">2,265.000</text>
<text x="979.80" y="229.00" font-size="7.3" fill="#131722" textLength="30.30" lengthAdjust="spacingAndGlyphs">2,225.000</text>
<text x="979.80" y="257.57" font-size="7.3" fill="#131722" textLength="30.30" lengthAdjust="spacingAndGlyphs">2,185.000</text>
<text x="979.80" y="286.67" font-size="7.3" fill="#131722" textLength="30.30" lengthAdjust="spacingAndGlyphs">2,145.000</text>
<text x="979.80" y="308.85" font-size="7.3" fill="#131722" textLength="30.30" lengthAdjust="spacingAndGlyphs">2,115.000</text>
<text x="979.80" y="331.35" font-size="7.3" fill="#131722" textLength="30.30" lengthAdjust="spacingAndGlyphs">2,085.000</text>
<text x="979.80" y="354.18" font-size="7.3" fill="#131722" textLength="30.30" lengthAdjust="spacingAndGlyphs">2,055.000</text>
<text x="979.80" y="377.34" font-size="7.3" fill="#131722" textLength="30.30" lengthAdjust="spacingAndGlyphs">2,025.000</text>
<text x="979.80" y="396.90" font-size="7.3" fill="#131722" textLength="30.30" lengthAdjust="spacingAndGlyphs">2,000.000</text>
<text x="979.80" y="415.91" font-size="7.3" fill="#131722" textLength="30.30" lengthAdjust="spacingAndGlyphs">1,976.000</text>
<text x="979.80" y="451.79" font-size="7.3" fill="#131722" textLength="30.30" lengthAdjust="spacingAndGlyphs">1,931.500</text>
<rect x="977.3" y="17.6" width="42.6" height="14.5" rx="3" fill="#fff" stroke="#E6E8EE" stroke-width="0.8"/>
<text x="982.50" y="27.50" font-size="7.4" fill="#131722" textLength="11.50" lengthAdjust="spacingAndGlyphs">USD</text>
<path d="M975 100.10H1011.5Q1012.7 100.10 1012.7 101.30V115.90Q1012.7 117.10 1011.5 117.10H975Z" fill="#089981"/>
<text x="980.00" y="107.20" font-size="7.3" fill="#fff" stroke="#fff" stroke-width="0.18" textLength="29.8" lengthAdjust="spacingAndGlyphs">2,403.970</text>
<text x="980.2" y="114.70" font-size="7.3" fill="#fff" fill-opacity="0.85" textLength="25.7" lengthAdjust="spacingAndGlyphs">10:55:22</text>
<path d="M975 117.10H1011.5Q1012.7 117.10 1012.7 118.30V125.10Q1012.7 126.30 1011.5 126.30H975Z" fill="#4CAF50"/>
<text x="980.00" y="124.30" font-size="7.3" fill="#fff" stroke="#fff" stroke-width="0.18" textLength="29.8" lengthAdjust="spacingAndGlyphs">2,385.280</text>
<path d="M975 129.30H1011.5Q1012.7 129.30 1012.7 130.50V137.30Q1012.7 138.50 1011.5 138.50H975Z" fill="#2962FF"/>
<text x="980.00" y="136.50" font-size="7.3" fill="#fff" stroke="#fff" stroke-width="0.18" textLength="29.8" lengthAdjust="spacingAndGlyphs">2,359.859</text>
<path d="M975 179.10H1011.5Q1012.7 179.10 1012.7 180.30V186.70Q1012.7 187.90 1011.5 187.90H975Z" fill="#F23645"/>
<text x="980.00" y="186.10" font-size="7.3" fill="#fff" stroke="#fff" stroke-width="0.18" textLength="29.8" lengthAdjust="spacingAndGlyphs">2,286.830</text>
<path d="M975 215.80H1011.5Q1012.7 215.80 1012.7 217.00V223.70Q1012.7 224.90 1011.5 224.90H975Z" fill="#4CAF50"/>
<text x="980.00" y="222.95" font-size="7.3" fill="#fff" stroke="#fff" stroke-width="0.18" textLength="29.8" lengthAdjust="spacingAndGlyphs">2,234.020</text>
<path d="M975 266.60H1011.5Q1012.7 266.60 1012.7 267.80V274.70Q1012.7 275.90 1011.5 275.90H975Z" fill="#00BCD4"/>
<text x="980.00" y="273.85" font-size="7.3" fill="#131722" stroke="#131722" stroke-width="0.18" textLength="29.8" lengthAdjust="spacingAndGlyphs">2,163.010</text>
<path d="M975 337.80H1011.5Q1012.7 337.80 1012.7 339.00V345.50Q1012.7 346.70 1011.5 346.70H975Z" fill="#000"/>
<text x="980.00" y="344.85" font-size="7.3" fill="#fff" stroke="#fff" stroke-width="0.18" textLength="29.8" lengthAdjust="spacingAndGlyphs">2,067.000</text>
<path d="M975 382.60H1011.5Q1012.7 382.60 1012.7 383.80V390.60Q1012.7 391.80 1011.5 391.80H975Z" fill="#000"/>
<text x="980.00" y="389.80" font-size="7.3" fill="#fff" stroke="#fff" stroke-width="0.18" textLength="29.8" lengthAdjust="spacingAndGlyphs">2,009.000</text>
<path d="M975 427.80H1011.5Q1012.7 427.80 1012.7 429.00V436.00Q1012.7 437.20 1011.5 437.20H975Z" fill="#000"/>
<text x="980.00" y="435.10" font-size="7.3" fill="#fff" stroke="#fff" stroke-width="0.18" textLength="29.8" lengthAdjust="spacingAndGlyphs">1,952.210</text>
<text x="17.20" y="473.9" font-size="7.5" fill="#131722" textLength="10.6" lengthAdjust="spacingAndGlyphs" font-weight="bold">Feb</text>
<text x="65.95" y="473.9" font-size="7.5" fill="#131722" textLength="6.2" lengthAdjust="spacingAndGlyphs" stroke="#131722" stroke-width="0.22">12</text>
<text x="112.50" y="473.9" font-size="7.5" fill="#131722" textLength="6.2" lengthAdjust="spacingAndGlyphs" stroke="#131722" stroke-width="0.22">21</text>
<text x="156.95" y="473.9" font-size="7.5" fill="#131722" textLength="10.4" lengthAdjust="spacingAndGlyphs" font-weight="bold">Mar</text>
<text x="232.20" y="473.9" font-size="7.5" fill="#131722" textLength="6.2" lengthAdjust="spacingAndGlyphs" stroke="#131722" stroke-width="0.22">18</text>
<text x="289.85" y="473.9" font-size="7.5" fill="#131722" textLength="10.6" lengthAdjust="spacingAndGlyphs" font-weight="bold">Apr</text>
<text x="358.55" y="473.9" font-size="7.5" fill="#131722" textLength="6.2" lengthAdjust="spacingAndGlyphs" stroke="#131722" stroke-width="0.22">15</text>
<text x="435.65" y="473.9" font-size="7.5" fill="#131722" textLength="11.6" lengthAdjust="spacingAndGlyphs" font-weight="bold">May</text>
<text x="491.55" y="473.9" font-size="7.5" fill="#131722" textLength="6.2" lengthAdjust="spacingAndGlyphs" stroke="#131722" stroke-width="0.22">13</text>
<text x="538.10" y="473.9" font-size="7.5" fill="#131722" textLength="6.2" lengthAdjust="spacingAndGlyphs" stroke="#131722" stroke-width="0.22">22</text>
<text x="589.10" y="473.9" font-size="7.5" fill="#131722" textLength="10.6" lengthAdjust="spacingAndGlyphs" font-weight="bold">Jun</text>
<text x="657.80" y="473.9" font-size="7.5" fill="#131722" textLength="6.2" lengthAdjust="spacingAndGlyphs" stroke="#131722" stroke-width="0.22">17</text>
<text x="722.80" y="473.9" font-size="7.5" fill="#131722" textLength="9.2" lengthAdjust="spacingAndGlyphs" font-weight="bold">Jul</text>
<text x="790.80" y="473.9" font-size="7.5" fill="#131722" textLength="6.2" lengthAdjust="spacingAndGlyphs" stroke="#131722" stroke-width="0.22">15</text>
<text x="875.05" y="473.9" font-size="7.5" fill="#131722" textLength="10.6" lengthAdjust="spacingAndGlyphs" font-weight="bold">Aug</text>
<text x="923.80" y="473.9" font-size="7.5" fill="#131722" textLength="6.2" lengthAdjust="spacingAndGlyphs" stroke="#131722" stroke-width="0.22">12</text>
<defs><clipPath id="tclip"><rect x="900" y="463" width="74.3" height="15"/></clipPath></defs>
<text clip-path="url(#tclip)" x="970.35" y="473.9" font-size="7.5" fill="#131722" stroke="#131722" stroke-width="0.22" textLength="6.2" lengthAdjust="spacingAndGlyphs">21</text>
<g fill="#131722"><path d="M4.1 486.1H7.9V491.5H6.1V488.2H4.1Z"/><circle cx="10.3" cy="487.2" r="0.95"/><path d="M12.4 486.1H14.7L12.8 491.5H10.8Z"/></g>
<text x="17.30" y="491.80" font-size="7.6" fill="#50535E" textLength="38.90" lengthAdjust="spacingAndGlyphs">TradingView</text>
</svg>
</body></html>
